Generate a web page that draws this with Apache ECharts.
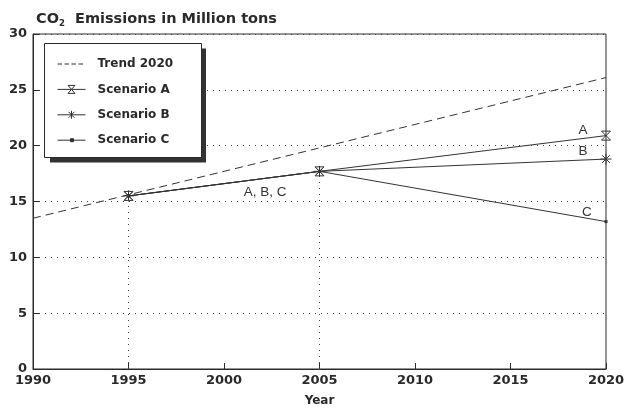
<!DOCTYPE html>
<html>
<head>
<meta charset="utf-8">
<script src="https://cdn.jsdelivr.net/npm/echarts@6/dist/echarts.min.js"></script>
<style>html,body{margin:0;padding:0;background:#fff}#c{width:628px;height:412px}</style>
</head>
<body>
<div id="c"></div>
<script>
const trendYears = [1990, 2020];
const trendValues = [13.5, 26.1];
const scenarioYears = [1995, 2005, 2020];
const scenarioA = [15.5, 17.7, 20.9];
const scenarioB = [15.5, 17.7, 18.8];
const scenarioC = [15.5, 17.7, 13.2];
const xTicks = [1990, 1995, 2000, 2005, 2010, 2015, 2020];
const yTicks = [0, 5, 10, 15, 20, 25, 30];
const seriesNames = ['Trend 2020', 'Scenario A', 'Scenario B', 'Scenario C'];
const labelTexts = ['A, B, C', 'A', 'B', 'C'];
const labelCoords = [[2002.15, 15.8], [2018.8, 21.4], [2018.8, 19.5], [2019.0, 14.0]];

const pair = (xs, ys) => xs.map((x, i) => [x, ys[i]]);
const ink = '#2a2a2a';
const font = '"DejaVu Sans", "Liberation Sans", sans-serif';
const plainFont = '"Liberation Sans", Arial, sans-serif';

const hourglass = 'path://M0,0 L10,0 L0,10 L10,10 Z';
const asterisk = 'path://M5,0 L5,10 M0,5 L10,5 M1.5,1.5 L8.5,8.5 M8.5,1.5 L1.5,8.5';

// legend icons (28 x 10 box)
const box = 'M0,0 M28,10 ';
const legendIcons = [
  'path://' + box + 'M0,5 L4.5,5 M7,5 L11.5,5 M14,5 L18.5,5 M21,5 L25.5,5',
  'path://' + box + 'M0,5 L28,5 M10.5,1 L17.5,1 L10.5,9 L17.5,9 Z',
  'path://' + box + 'M0,5 L28,5 M14,1 L14,9 M11,2 L17,8 M17,2 L11,8',
  'path://' + box + 'M0,5 L28,5 M13,3.5 L16,3.5 L16,6.5 L13,6.5 Z'
];
const legendFills = ['transparent', 'transparent', 'transparent', '#333'];

const chart = echarts.init(document.getElementById('c'));
chart.setOption({
  backgroundColor: '#fff',
  animation: false,
  title: {
    text: 'CO{sub|2}  Emissions in Million tons',
    left: 31, top: 5,
    textStyle: {
      fontFamily: font, fontWeight: 'bold', fontSize: 14.5, color: ink, lineHeight: 18,
      rich: { sub: { fontFamily: font, fontWeight: 'bold', fontSize: 8.5, color: ink, lineHeight: 18, verticalAlign: 'bottom', padding: [5, 0, 0, 0] } }
    }
  },
  grid: { left: 33, right: 22, top: 34, bottom: 35.5, show: true, borderColor: ink, borderWidth: 1, backgroundColor: 'transparent' },
  graphic: [
    { type: 'rect', z: 3, silent: true, shape: { x: 50, y: 48.5, width: 156, height: 114 }, style: { fill: '#333' } },
    { type: 'rect', z: 3, silent: true, shape: { x: 44.5, y: 43.5, width: 157, height: 114 }, style: { fill: '#fff', stroke: ink, lineWidth: 1 } }
  ],
  legend: {
    left: 57, top: 58, orient: 'vertical', z: 5,
    padding: 0,
    itemWidth: 28, itemHeight: 10, itemGap: 13.4,
    textStyle: { fontFamily: font, fontWeight: 'bold', fontSize: 12, color: ink, padding: [0, 0, 0, 7] },
    data: seriesNames.map((n, i) => ({
      name: n, icon: legendIcons[i],
      itemStyle: { color: legendFills[i], borderColor: '#333', borderWidth: 1 }
    }))
  },
  xAxis: {
    type: 'value', min: xTicks[0], max: xTicks[xTicks.length - 1], interval: 5,
    name: 'Year', nameLocation: 'middle', nameGap: 26,
    nameTextStyle: { fontFamily: font, fontWeight: 'bold', fontSize: 12, color: ink },
    axisLine: { show: true, lineStyle: { color: ink } },
    axisTick: { show: true, inside: true, length: 6, lineStyle: { color: ink } },
    axisLabel: { fontFamily: font, fontWeight: 'bold', fontSize: 13, color: ink, margin: 5, formatter: v => String(v) },
    splitLine: { show: false }
  },
  yAxis: {
    type: 'value', min: yTicks[0], max: yTicks[yTicks.length - 1], interval: 5,
    axisLine: { show: true, lineStyle: { color: ink } },
    axisTick: { show: true, inside: true, length: 6, lineStyle: { color: ink } },
    axisLabel: { fontFamily: font, fontWeight: 'bold', fontSize: 13, color: ink, margin: 6 },
    splitLine: { show: true, lineStyle: { color: '#444', type: [1, 5], width: 1 } }
  },
  series: [
    {
      name: seriesNames[0], type: 'line', data: pair(trendYears, trendValues),
      symbol: 'none', lineStyle: { color: '#333', width: 1, type: [8, 5] }, itemStyle: { color: '#333' }
    },
    {
      name: seriesNames[1], type: 'line', data: pair(scenarioYears, scenarioA),
      symbol: hourglass, symbolSize: [9, 9],
      lineStyle: { color: '#333', width: 1 },
      itemStyle: { color: 'transparent', borderColor: '#333', borderWidth: 1 }
    },
    {
      name: seriesNames[2], type: 'line', data: pair(scenarioYears, scenarioB),
      symbol: asterisk, symbolSize: 11,
      lineStyle: { color: '#333', width: 1 },
      itemStyle: { color: 'transparent', borderColor: '#333', borderWidth: 1 }
    },
    {
      name: seriesNames[3], type: 'line', data: pair(scenarioYears, scenarioC),
      symbol: 'rect', symbolSize: 3,
      lineStyle: { color: '#333', width: 1 },
      itemStyle: { color: '#333' },
      markLine: {
        silent: true, symbol: 'none', label: { show: false },
        lineStyle: { color: '#444', type: [1, 5], width: 1 },
        data: scenarioYears.slice(0, 2).map((yr, i) => [{ coord: [yr, 0] }, { coord: [yr, scenarioC[i]] }])
      },
      markPoint: {
        silent: true, symbol: 'circle', symbolSize: 0,
        label: { show: true, position: 'inside', fontFamily: plainFont, fontSize: 13.5, color: '#333', formatter: p => p.name },
        data: labelTexts.map((t, i) => ({ name: t, coord: labelCoords[i] }))
      }
    }
  ]
});
</script>
</body>
</html>
